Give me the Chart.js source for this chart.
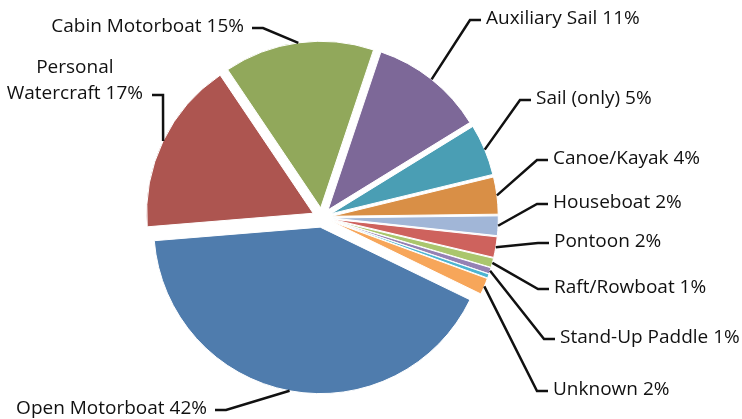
<!DOCTYPE html>
<html>
<head>
<meta charset="utf-8">
<script src="https://cdn.jsdelivr.net/npm/chart.js@4.4.0/dist/chart.umd.min.js"></script>
<style>
  html, body { margin: 0; padding: 0; background: #fff; }
  #wrap { width: 742px; height: 419px; }
</style>
</head>
<body>
<div id="wrap"><canvas id="pie"></canvas></div>
<script>
const categories = [
    "Auxiliary Sail",
    "Sail (only)",
    "Canoe/Kayak",
    "Houseboat",
    "Pontoon",
    "Raft/Rowboat",
    "Stand-Up Paddle",
    "Other",
    "Unknown",
    "Open Motorboat",
    "Personal Watercraft",
    "Cabin Motorboat"
];
const shares = [11.1, 5.0, 3.6, 1.9, 2.0, 0.9, 0.6, 0.4, 1.6, 41.6, 16.9, 14.6];
const colors = [
    "#7d6898", "#4a9eb4", "#d98f46", "#a1b6d7", "#ce625d", "#aac66d",
    "#9581b4", "#4db5d2", "#f7a65a", "#4f7cad", "#ad5550", "#91a85b"
];

(() => {
    "use strict";

    const EXPLODE = 9.8;
    // leader line elbow for each slice label (null = no label)
    const labelSpots = [
        { elbow: [470, 20], side: "right" },
        { elbow: [520, 100], side: "right" },
        { elbow: [537, 160], side: "right" },
        { elbow: [537, 204], side: "right" },
        { elbow: [538, 243], side: "right" },
        { elbow: [538, 289], side: "right" },
        { elbow: [544, 339], side: "right" },
        null,
        { elbow: [537, 391], side: "right" },
        { elbow: [226, 410], side: "left" },
        { elbow: [163, 95], side: "left", wrap: true },
        { elbow: [263, 28], side: "left" }
    ];
    const total = shares.reduce((a, b) => a + b, 0);

    // pull every slice out a little, like an exploded pie
    const explode = {
        id: "explode",
        beforeDatasetDraw(chart, args) {
            const ctx = chart.ctx;
            args.meta.data.forEach(arc => {
                const mid = (arc.startAngle + arc.endAngle) / 2;
                ctx.save();
                ctx.translate(Math.cos(mid) * EXPLODE, Math.sin(mid) * EXPLODE);
                arc.draw(ctx);
                ctx.restore();
            });
            return false;
        }
    };

    const leaderLabels = {
        id: "leaderLabels",
        afterDraw(chart) {
            const ctx = chart.ctx;
            const arcs = chart.getDatasetMeta(0).data;
            ctx.save();
            ctx.font = "19px 'Open Sans'";
            ctx.fillStyle = "#111";
            ctx.strokeStyle = "#111";
            ctx.lineWidth = 2.5;
            ctx.textBaseline = "middle";
            arcs.forEach((arc, i) => {
                const spot = labelSpots[i];
                if (!spot) return;
                const mid = (arc.startAngle + arc.endAngle) / 2;
                const r = arc.outerRadius + EXPLODE;
                const sx = arc.x + Math.cos(mid) * r;
                const sy = arc.y + Math.sin(mid) * r;
                const [ex, ey] = spot.elbow;
                const dir = spot.side === "right" ? 1 : -1;
                ctx.beginPath();
                ctx.moveTo(sx, sy);
                ctx.lineTo(ex, ey);
                ctx.lineTo(ex + dir * 11, ey);
                ctx.stroke();

                const pct = Math.round(shares[i] / total * 100) + "%";
                const name = categories[i];
                if (spot.wrap) {
                    const words = name.split(" ");
                    const line1 = words[0];
                    const line2 = words.slice(1).join(" ") + " " + pct;
                    const w2 = ctx.measureText(line2).width;
                    const cx = ex - 20 - w2 / 2;
                    ctx.textAlign = "center";
                    ctx.fillText(line1, cx, ey - 27);
                    ctx.fillText(line2, cx, ey - 1);
                } else if (dir > 0) {
                    ctx.textAlign = "left";
                    ctx.fillText(name + " " + pct, ex + 16, ey - 1);
                } else {
                    ctx.textAlign = "right";
                    ctx.fillText(name + " " + pct, ex - 19, ey - 1);
                }
            });
            ctx.restore();
        }
    };

    const ctx = document.getElementById("pie").getContext("2d");
    // eslint-disable-next-line no-unused-vars
    const pie = new Chart(ctx, {
        type: "pie",
        data: {
            labels: categories,
            datasets: [{
                data: shares,
                backgroundColor: colors,
                borderColor: "#ffffff",
                borderWidth: 1
            }]
        },
        options: {
            responsive: true,
            maintainAspectRatio: false,
            animation: false,
            rotation: 18.5,
            radius: 166.5,
            layout: { padding: { left: 0, right: 98, top: 16, bottom: 0 } },
            plugins: {
                legend: { display: false },
                tooltip: { enabled: false }
            }
        },
        plugins: [explode, leaderLabels]
    });
})();
</script>
</body>
</html>
